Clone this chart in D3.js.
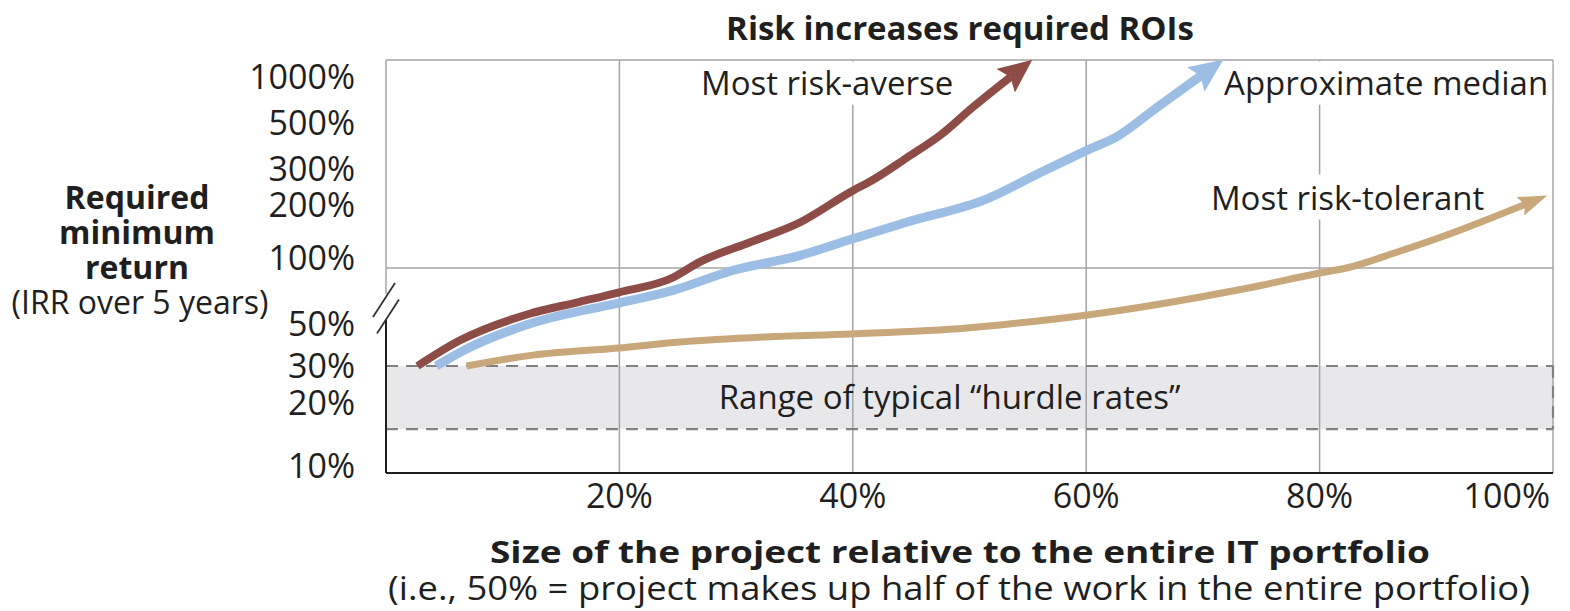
<!DOCTYPE html>
<html lang="en">
<head>
  <meta charset="UTF-8">
  <title>Risk increases required ROIs</title>
  <script src="https://d3js.org/d3.v7.min.js"></script>
  <style>
    body {
      margin: 0;
      background: #fff;
      font-family: 'Open Sans', sans-serif;
    }
    text { fill: #1f1f1f; }
    .grid { stroke: #a4a4a4; stroke-width: 1.5; fill: none; }
    .dash { stroke: #808080; stroke-width: 2.2; stroke-dasharray: 12 8; fill: none; }
    .axis { stroke: #1f1f1f; stroke-width: 2; fill: none; }
    .tick { font-size: 34px; }
    .note { font-size: 33px; }
    .bold { font-weight: 700; }
  </style>
</head>
<body>
  <svg id="chart" width="1570" height="611"></svg>

  <script>
    // x = project size as % of the IT portfolio, y = required minimum return (%)
    const xTicks = [20, 40, 60, 80, 100];
    const yTicks = [10, 20, 30, 50, 100, 200, 300, 500, 1000];
    const hurdleRange = [15, 30];

    const seriesNames = ["Most risk-averse", "Approximate median", "Most risk-tolerant"];

    const averseX = [2.7, 6.3, 12.3, 16.6, 19.9, 24.6, 26.9, 31.2, 35.5, 39.8, 41.7, 44.6, 47.5, 50.3, 53.5];
    const averseY = [30, 41, 57, 66, 74, 89, 107, 133, 166, 232, 265, 338, 435, 594, 828];

    const medianX = [4.3, 6.9, 12.6, 19.9, 24.6, 29.7, 35.5, 39.8, 44.6, 51.5, 56.0, 60.1, 62.6, 66.1, 69.8];
    const medianY = [30, 37, 51, 65, 76, 97, 115, 137, 166, 215, 286, 369, 427, 594, 838];

    const tolerantX = [6.9, 12.6, 19.9, 25.2, 32.6, 39.9, 49.8, 52.6, 60.1, 69.8, 73.8, 80.0, 82.3, 86.6, 90.9, 97.6];
    const tolerantY = [30, 34.3, 37.4, 40.3, 42.9, 44.5, 47.9, 49.7, 56.1, 70, 78, 94, 100, 119, 144, 202];

    const svg = d3.select("#chart");
    const plotL = 386, plotR = 1553, plotT = 60, plotB = 473;

    const x = d3.scaleLinear().domain([0, 100]).range([plotL, plotR]);
    // broken axis: the part above 100% is squeezed
    const y = d3.scaleLog().domain([10, 30, 100, 1000]).range([466, 366, 268, plotT]);

    const series = [
      { name: seriesNames[0], xs: averseX, ys: averseY, color: "#8e4c46", width: 8, head: [28, 15, 6] },
      { name: seriesNames[1], xs: medianX, ys: medianY, color: "#9cbde4", width: 9, head: [28, 15, 6] },
      { name: seriesNames[2], xs: tolerantX, ys: tolerantY, color: "#c8a87b", width: 7, head: [24, 10, 5] }
    ];

    // hurdle band
    svg.append("rect")
      .attr("x", x(0)).attr("y", y(hurdleRange[1]))
      .attr("width", x(100) - x(0))
      .attr("height", y(hurdleRange[0]) - y(hurdleRange[1]))
      .attr("fill", "#e8e8ea");

    // vertical grid
    svg.selectAll(".vgrid").data(xTicks).enter().append("line")
      .attr("class", "grid")
      .attr("x1", d => x(d)).attr("x2", d => x(d))
      .attr("y1", plotT).attr("y2", plotB);

    // top border and the 100% line
    svg.append("line").attr("class", "grid")
      .attr("x1", plotL).attr("x2", plotR).attr("y1", plotT).attr("y2", plotT);
    svg.append("line").attr("class", "grid")
      .attr("x1", plotL).attr("x2", plotR).attr("y1", y(100)).attr("y2", y(100));

    // white boxes behind the series labels (they cut the grid)
    const labels = [
      { text: seriesNames[0], x: 37.8, y: 774 },
      { text: seriesNames[1], x: 85.7, y: 774 },
      { text: seriesNames[2], x: 82.4, y: 217 }
    ];
    const boxG = svg.append("g");

    // dashed band edges
    hurdleRange.forEach(v => {
      svg.append("line").attr("class", "dash")
        .attr("x1", plotL).attr("x2", plotR).attr("y1", y(v)).attr("y2", y(v));
    });
    svg.append("line").attr("class", "dash")
      .attr("x1", plotR).attr("x2", plotR)
      .attr("y1", y(hurdleRange[1])).attr("y2", y(hurdleRange[0]));

    // left axis with a break
    svg.append("line").attr("class", "grid")
      .attr("x1", plotL).attr("x2", plotL).attr("y1", plotT).attr("y2", 294);
    svg.append("line").attr("class", "axis")
      .attr("x1", plotL).attr("x2", plotL).attr("y1", 320).attr("y2", plotB);
    [[-2, -8], [2, 8.5]].forEach(([dx, dy]) => {
      svg.append("line")
        .attr("stroke", "#333").attr("stroke-width", 1.8)
        .attr("x1", plotL + dx - 11).attr("y1", 308 + dy + 17)
        .attr("x2", plotL + dx + 11).attr("y2", 308 + dy - 17);
    });

    // bottom axis
    svg.append("line").attr("class", "axis")
      .attr("x1", plotL).attr("x2", plotR).attr("y1", plotB).attr("y2", plotB);

    // series lines with arrowheads
    const defs = svg.append("defs");
    series.forEach((s, i) => {
      const [len, half, back] = s.head;
      defs.append("marker")
        .attr("id", "head" + i)
        .attr("markerUnits", "userSpaceOnUse")
        .attr("viewBox", `${-back} ${-half} ${len + back} ${half * 2}`)
        .attr("markerWidth", len + back).attr("markerHeight", half * 2)
        .attr("refX", 0).attr("refY", 0)
        .attr("orient", "auto")
        .append("path")
        .attr("d", `M${-back},${-half}L${len},0L${-back},${half}L0,0Z`)
        .attr("fill", s.color);
    });

    const line = d3.line()
      .x(d => x(d[0]))
      .y(d => y(d[1]))
      .curve(d3.curveMonotoneX);

    series.forEach((s, i) => {
      svg.append("path")
        .datum(d3.zip(s.xs, s.ys))
        .attr("d", line)
        .attr("fill", "none")
        .attr("stroke", s.color)
        .attr("stroke-width", s.width)
        .attr("stroke-linejoin", "round")
        .attr("marker-end", `url(#head${i})`);
    });

    // series labels
    labels.forEach(l => {
      const t = svg.append("text")
        .attr("class", "note")
        .attr("x", x(l.x)).attr("y", y(l.y))
        .attr("dy", "0.35em")
        .attr("text-anchor", "middle")
        .text(l.text);
      const b = t.node().getBBox();
      const y0 = Math.max(b.y, plotT + 1.5);
      boxG.append("rect")
        .attr("x", b.x - 4).attr("y", y0)
        .attr("width", b.width + 8).attr("height", b.y + b.height - y0)
        .attr("fill", "#fff");
    });

    // hurdle label
    svg.append("text")
      .attr("class", "note")
      .attr("x", x(48.3))
      .attr("y", y(Math.sqrt(hurdleRange[0] * hurdleRange[1])))
      .attr("dy", "0.35em")
      .attr("text-anchor", "middle")
      .text("Range of typical \u201churdle rates\u201d");

    // y tick labels
    svg.selectAll(".ylab").data(yTicks).enter().append("text")
      .attr("class", "tick")
      .attr("x", 355)
      .attr("y", d => y(d))
      .attr("dy", d => d === 1000 ? "0.85em" : d === 100 ? "0.05em" : "0.35em")
      .attr("text-anchor", "end")
      .text(d => d + "%");

    // x tick labels
    svg.selectAll(".xlab").data(xTicks).enter().append("text")
      .attr("class", "tick")
      .attr("x", d => d === 100 ? x(d) - 3 : x(d))
      .attr("y", 496)
      .attr("dy", "0.35em")
      .attr("text-anchor", d => d === 100 ? "end" : "middle")
      .text(d => d + "%");

    // titles
    svg.append("text")
      .attr("class", "bold")
      .attr("x", 960).attr("y", 28).attr("dy", "0.35em")
      .attr("text-anchor", "middle")
      .style("font-size", "33px")
      .text("Risk increases required ROIs");

    svg.append("text")
      .attr("class", "bold")
      .attr("x", 960).attr("y", 552).attr("dy", "0.35em")
      .attr("text-anchor", "middle")
      .attr("textLength", 940).attr("lengthAdjust", "spacingAndGlyphs")
      .style("font-size", "31px")
      .text("Size of the project relative to the entire IT portfolio");

    svg.append("text")
      .attr("x", 959).attr("y", 589).attr("dy", "0.35em")
      .attr("text-anchor", "middle")
      .attr("textLength", 1142).attr("lengthAdjust", "spacingAndGlyphs")
      .style("font-size", "32px")
      .text("(i.e., 50% = project makes up half of the work in the entire portfolio)");

    const yTitle = ["Required", "minimum", "return"];
    yTitle.forEach((t, i) => {
      svg.append("text")
        .attr("class", "bold")
        .attr("x", 137).attr("y", 198 + i * 35).attr("dy", "0.35em")
        .attr("text-anchor", "middle")
        .style("font-size", "32px")
        .text(t);
    });
    svg.append("text")
      .attr("x", 140).attr("y", 303).attr("dy", "0.35em")
      .attr("text-anchor", "middle")
      .style("font-size", "32px")
      .text("(IRR over 5 years)");
  </script>
</body>
</html>
